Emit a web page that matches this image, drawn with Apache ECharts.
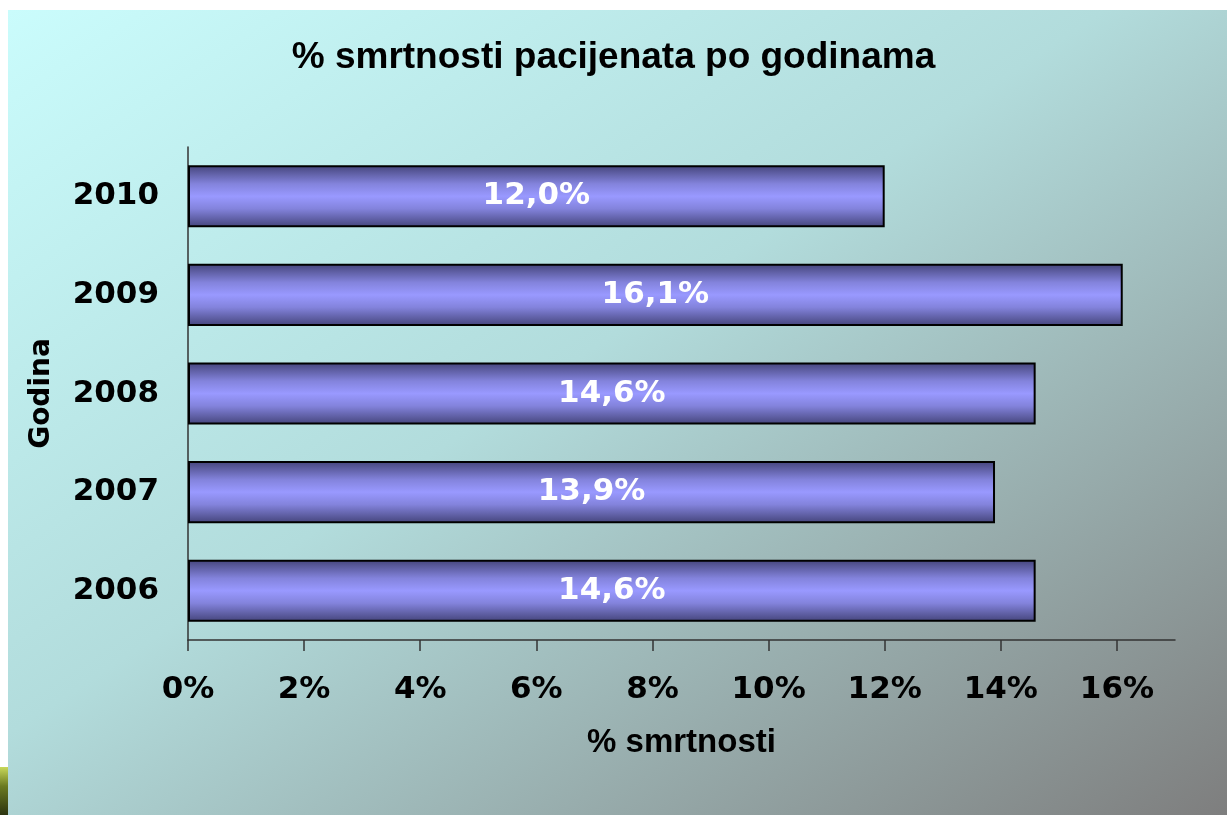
<!DOCTYPE html>
<html>
<head>
<meta charset="utf-8">
<title>% smrtnosti pacijenata po godinama</title>
<script src="https://cdn.jsdelivr.net/npm/echarts@6/dist/echarts.min.js"></script>
<style>
  html, body { margin: 0; padding: 0; background: #fff; }
  #chart { width: 1227px; height: 815px; }
</style>
</head>
<body>
<div id="chart"></div>
<script>
const years = ['2006', '2007', '2008', '2009', '2010'];
const mortality = [14.6, 13.9, 14.6, 16.1, 12.0];
const xTicks = [0, 2, 4, 6, 8, 10, 12, 14, 16];

let myChart = echarts.init(document.getElementById('chart'));

let barFill = new echarts.graphic.LinearGradient(0, 0, 0, 1, [
    { offset: 0, color: '#44447a' },
    { offset: 0.3, color: '#8383dc' },
    { offset: 0.5, color: '#9999ff' },
    { offset: 0.7, color: '#8383dc' },
    { offset: 1, color: '#44447a' }
]);

let option = {
    backgroundColor: '#ffffff',
    graphic: [{
        type: 'rect',
        z: -10,
        silent: true,
        shape: { x: 8, y: 10, width: 1219, height: 805 },
        style: {
            fill: new echarts.graphic.LinearGradient(0, 0, 0.607, 1.393, [
                { offset: 0, color: '#cafcfc' },
                { offset: 0.45, color: '#b2dcdc' },
                { offset: 1, color: '#7e7e7e' }
            ])
        }
    }, {
        type: 'rect',
        z: -10,
        silent: true,
        shape: { x: 0, y: 767, width: 8, height: 48 },
        style: {
            fill: new echarts.graphic.LinearGradient(0, 0, 0, 1, [
                { offset: 0, color: '#c8d85a' },
                { offset: 0.4, color: '#6b7a20' },
                { offset: 1, color: '#2c3410' }
            ])
        }
    }],
    title: {
        text: '% smrtnosti pacijenata po godinama',
        left: 'center',
        top: 34,
        textStyle: {
            fontFamily: 'Liberation Sans',
            fontWeight: 'bold',
            fontSize: 37,
            color: '#000'
        }
    },
    grid: {
        left: 188,
        right: 52,
        top: 147,
        bottom: 175
    },
    xAxis: {
        type: 'value',
        min: 0,
        max: 17,
        interval: 2,
        name: '% smrtnosti',
        nameLocation: 'middle',
        nameGap: 86,
        nameTextStyle: {
            fontFamily: 'Liberation Sans',
            fontWeight: 'bold',
            fontSize: 33,
            color: '#000'
        },
        axisLine: { show: true, lineStyle: { color: '#333', width: 1.5 } },
        axisTick: { show: true, length: 11, lineStyle: { color: '#333', width: 1.5 } },
        splitLine: { show: false },
        axisLabel: {
            showMaxLabel: false,
            margin: 34,
            fontFamily: 'DejaVu Sans',
            fontWeight: 'bold',
            fontSize: 31,
            color: '#000',
            formatter: function (v) {
                return xTicks.indexOf(v) >= 0 ? v + '%' : '';
            }
        }
    },
    yAxis: {
        type: 'category',
        data: years,
        name: 'Godina',
        nameLocation: 'middle',
        nameGap: 132,
        nameTextStyle: {
            fontFamily: 'DejaVu Sans',
            fontWeight: 'bold',
            fontSize: 28,
            color: '#000'
        },
        axisLine: { show: true, lineStyle: { color: '#333', width: 1.5 } },
        axisTick: { show: false },
        axisLabel: {
            margin: 29,
            padding: [12, 0, 0, 0],
            fontFamily: 'DejaVu Sans',
            fontWeight: 'bold',
            fontSize: 31,
            color: '#000'
        }
    },
    series: [{
        name: '% smrtnosti',
        type: 'bar',
        data: mortality,
        barWidth: '63%',
        itemStyle: {
            color: barFill,
            borderColor: '#000',
            borderWidth: 2
        },
        label: {
            show: true,
            position: 'inside',
            fontFamily: 'DejaVu Sans',
            fontWeight: 'bold',
            fontSize: 31,
            color: '#fff',
            formatter: function (p) {
                return p.value.toFixed(1).replace('.', ',') + '%';
            }
        }
    }]
};

myChart.setOption(option);
</script>
</body>
</html>
